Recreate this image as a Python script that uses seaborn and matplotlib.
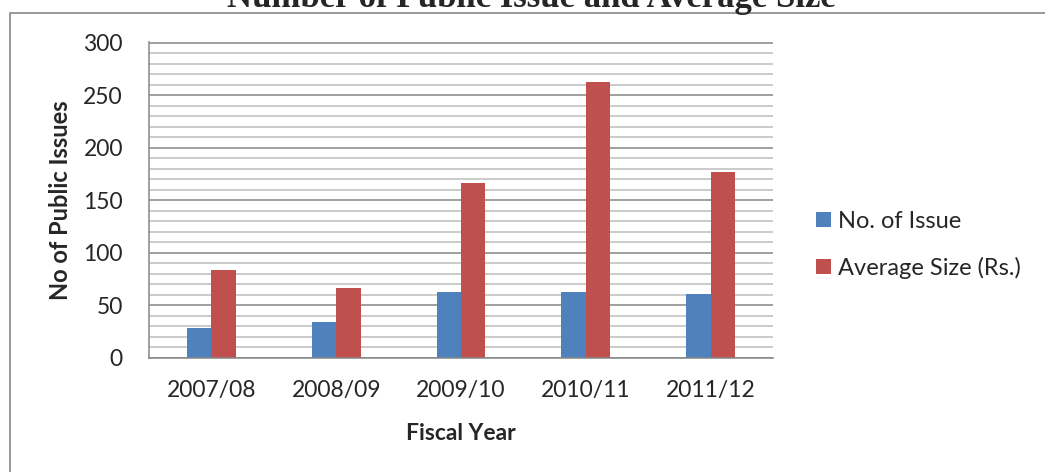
import matplotlib
matplotlib.use("Agg")
import matplotlib.pyplot as plt
import seaborn as sns
import pandas as pd
from matplotlib.ticker import MultipleLocator
from matplotlib.patches import Rectangle

# Data
years = ["2007/08", "2008/09", "2009/10", "2010/11", "2011/12"]
no_of_issue = [29, 34, 63, 63, 61]
avg_size = [84, 67, 166, 263, 177]
series_names = ["No. of Issue", "Average Size (Rs.)"]
colors = ["#4F81BD", "#C0504D"]

df = pd.DataFrame({
    "Fiscal Year": years * 2,
    "value": no_of_issue + avg_size,
    "series": [series_names[0]] * len(years) + [series_names[1]] * len(years),
})

sns.set_style("white")
plt.rcParams["font.family"] = ["Lato", "DejaVu Sans"]

W, H = 1045, 472
fig = plt.figure(figsize=(W / 100, H / 100), dpi=100)

# outer chart frame (runs off the right and bottom edges)
fig.patches.append(Rectangle((10 / W, -0.1), 1.2, 1 - 13 / H + 0.1,
                             transform=fig.transFigure, fill=False,
                             edgecolor="#878787", linewidth=1.2))

ax = fig.add_axes([149 / W, 1 - 358 / H, (773 - 149) / W, (358 - 42) / H])
sns.barplot(data=df, x="Fiscal Year", y="value", hue="series",
            palette=colors, width=0.39, saturation=1, ax=ax,
            edgecolor="none", linewidth=0)

handles, labels = ax.get_legend_handles_labels()
ax.get_legend().remove()

ax.set_xlim(-0.5, len(years) - 0.5)
ax.set_ylim(0, 300.6)
ax.yaxis.set_major_locator(MultipleLocator(50))
ax.yaxis.set_minor_locator(MultipleLocator(10))
ax.set_axisbelow(True)
ax.grid(which="minor", axis="y", color="#bdbdbd", linewidth=1.1)
ax.grid(which="major", axis="y", color="#868686", linewidth=1.1)

for side in ["top", "right"]:
    ax.spines[side].set_visible(False)
for side in ["left", "bottom"]:
    ax.spines[side].set_color("#868686")
    ax.spines[side].set_linewidth(1.1)

ax.tick_params(axis="y", which="major", direction="out", length=5.8,
               width=1.1, color="#868686", pad=13, labelsize=16.5)
ax.tick_params(axis="y", which="minor", length=0)
ax.tick_params(axis="x", length=0, pad=16, labelsize=16.5)

ax.set_xlabel("Fiscal Year", fontsize=16.5, fontweight="bold", va="center")
ax.set_ylabel("No of Public Issues", fontsize=17, fontweight="bold", va="center")
ax.xaxis.set_label_coords(0.5, (358 - 433) / (358 - 42))
ax.yaxis.set_label_coords((60 - 149) / (773 - 149), 0.5)

fig.legend(handles, labels, loc="upper left",
           bbox_to_anchor=(816 / W, 1 - 211 / H), bbox_transform=fig.transFigure,
           frameon=False, fontsize=17, handlelength=0.62, handleheight=0.62,
           handletextpad=0.3, labelspacing=1.05, borderpad=0, borderaxespad=0)

# title sits mostly above the top edge, as in the reference
fig.text(531 / W, 1 - 7 / H, "Number of Public Issue and Average Size",
         ha="center", va="baseline", family=["Liberation Serif"],
         fontweight="bold", fontsize=25)

fig.savefig("out.png", dpi=100)
